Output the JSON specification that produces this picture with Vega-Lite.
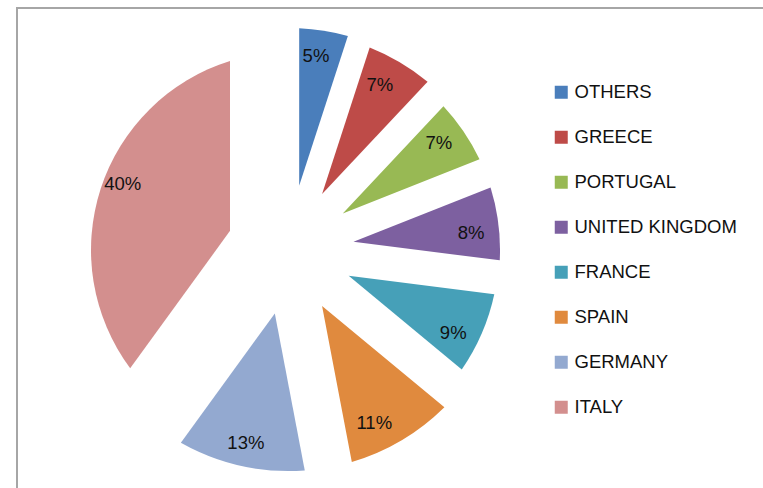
{
  "$schema": "https://vega.github.io/schema/vega-lite/v6.json",
  "width": 760,
  "height": 484,
  "padding": {"left": 17, "top": 8, "right": 0, "bottom": 0},
  "autosize": {"type": "none"},
  "background": "white",
  "config": {"view": {"stroke": "#a6a6a6", "strokeWidth": 2}},
  "data": {
    "values": [
      {"country": "OTHERS", "share": 0.05},
      {"country": "GREECE", "share": 0.07},
      {"country": "PORTUGAL", "share": 0.07},
      {"country": "UNITED KINGDOM", "share": 0.08},
      {"country": "FRANCE", "share": 0.09},
      {"country": "SPAIN", "share": 0.11},
      {"country": "GERMANY", "share": 0.13},
      {"country": "ITALY", "share": 0.40}
    ]
  },
  "transform": [
    {"stack": "share", "groupby": [], "sort": [{"field": "share", "order": "ascending"}, {"field": "country", "order": "ascending"}], "as": ["t0", "t1"]}
  ],
  "encoding": {
    "x": {"datum": 0, "type": "quantitative", "scale": {"domain": [-272, 488], "nice": false, "zero": false}, "axis": null},
    "theta": {"field": "t0", "type": "quantitative", "scale": {"domain": [0, 1]}},
    "theta2": {"field": "t1"}
  },
  "layer": [
    {
      "encoding": {
        "color": {
          "field": "country",
          "type": "nominal",
          "sort": ["OTHERS", "GREECE", "PORTUGAL", "UNITED KINGDOM", "FRANCE", "SPAIN", "GERMANY", "ITALY"],
          "scale": {
            "domain": ["OTHERS", "GREECE", "PORTUGAL", "UNITED KINGDOM", "FRANCE", "SPAIN", "GERMANY", "ITALY"],
            "range": ["#4A7EBB", "#BE4B48", "#98B954", "#7D60A0", "#46A0B8", "#E08A3E", "#93A9D0", "#D38F8E"]
          },
          "legend": {
            "orient": "none",
            "legendX": 535,
            "legendY": 75,
            "title": null,
            "padding": 0,
            "symbolType": "square",
            "symbolSize": 169,
            "symbolStrokeWidth": 0,
            "labelFont": "Liberation Sans",
            "labelFontSize": 18.5,
            "labelColor": "#111111",
            "labelOffset": 4,
            "labelLimit": 400,
            "rowPadding": 26
          }
        }
      },
      "layer": [
        {"transform": [{"filter": {"field": "country", "equal": "OTHERS"}}], "mark": {"type": "arc", "radius": 222, "radius2": 65, "padAngle": 0.0879}},
        {"transform": [{"filter": {"field": "country", "equal": "GREECE"}}], "mark": {"type": "arc", "radius": 218, "radius2": 65, "padAngle": 0.1247}},
        {"transform": [{"filter": {"field": "country", "equal": "PORTUGAL"}}], "mark": {"type": "arc", "radius": 211, "radius2": 65, "padAngle": 0.1285}},
        {"transform": [{"filter": {"field": "country", "equal": "UNITED KINGDOM"}}], "mark": {"type": "arc", "radius": 211, "radius2": 65, "padAngle": 0.1466}},
        {"transform": [{"filter": {"field": "country", "equal": "FRANCE"}}], "mark": {"type": "arc", "radius": 210, "radius2": 65, "padAngle": 0.1652}},
        {"transform": [{"filter": {"field": "country", "equal": "SPAIN"}}], "mark": {"type": "arc", "radius": 221, "radius2": 65, "padAngle": 0.1914}},
        {"transform": [{"filter": {"field": "country", "equal": "GERMANY"}}], "mark": {"type": "arc", "radius": 221, "radius2": 65, "padAngle": 0.2245}},
        {"transform": [{"filter": {"field": "country", "equal": "ITALY"}}], "mark": {"type": "arc", "radius": 198, "radius2": 62, "padAngle": 0.5767}}
      ]
    },
    {"transform": [{"filter": {"field": "country", "equal": "OTHERS"}}], "mark": {"type": "text", "radius": 196, "thetaOffset": 0.138, "font": "Liberation Sans", "fontSize": 18.5, "fill": "#111111"}, "encoding": {"text": {"field": "share", "type": "quantitative", "format": ".0%"}}},
    {"transform": [{"filter": {"field": "country", "equal": "GREECE"}}], "mark": {"type": "text", "radius": 188, "thetaOffset": 0.19, "font": "Liberation Sans", "fontSize": 18.5, "fill": "#111111"}, "encoding": {"text": {"field": "share", "type": "quantitative", "format": ".0%"}}},
    {"transform": [{"filter": {"field": "country", "equal": "PORTUGAL"}}], "mark": {"type": "text", "radius": 184, "thetaOffset": 0.197, "font": "Liberation Sans", "fontSize": 18.5, "fill": "#111111"}, "encoding": {"text": {"field": "share", "type": "quantitative", "format": ".0%"}}},
    {"transform": [{"filter": {"field": "country", "equal": "UNITED KINGDOM"}}], "mark": {"type": "text", "radius": 183, "thetaOffset": 0.284, "font": "Liberation Sans", "fontSize": 18.5, "fill": "#111111"}, "encoding": {"text": {"field": "share", "type": "quantitative", "format": ".0%"}}},
    {"transform": [{"filter": {"field": "country", "equal": "FRANCE"}}], "mark": {"type": "text", "radius": 184, "thetaOffset": 0.342, "font": "Liberation Sans", "fontSize": 18.5, "fill": "#111111"}, "encoding": {"text": {"field": "share", "type": "quantitative", "format": ".0%"}}},
    {"transform": [{"filter": {"field": "country", "equal": "SPAIN"}}], "mark": {"type": "text", "radius": 193, "thetaOffset": 0.422, "font": "Liberation Sans", "fontSize": 18.5, "fill": "#111111"}, "encoding": {"text": {"field": "share", "type": "quantitative", "format": ".0%"}}},
    {"transform": [{"filter": {"field": "country", "equal": "GERMANY"}}], "mark": {"type": "text", "radius": 198, "thetaOffset": 0.408, "font": "Liberation Sans", "fontSize": 18.5, "fill": "#111111"}, "encoding": {"text": {"field": "share", "type": "quantitative", "format": ".0%"}}},
    {"transform": [{"filter": {"field": "country", "equal": "ITALY"}}], "mark": {"type": "text", "radius": 179, "thetaOffset": 1.321, "font": "Liberation Sans", "fontSize": 18.5, "fill": "#111111"}, "encoding": {"text": {"field": "share", "type": "quantitative", "format": ".0%"}}}
  ]
}
